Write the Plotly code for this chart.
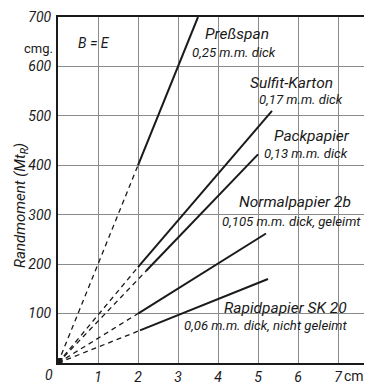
import plotly.graph_objects as go

# Randmoment curves (B = E)
names = ["Preßspan", "Sulfit-Karton", "Packpapier", "Normalpapier 2b", "Rapidpapier SK 20"]
x_solid_start = [2.0, 2.0, 2.2, 2.0, 2.05]
y_solid_start = [400, 194, 186, 100, 66]
x_end = [3.5, 5.35, 5.0, 5.2, 5.25]
y_end = [700, 510, 422, 262, 170]

# label lines (data coords, left anchored): material name, then thickness
name_x = [3.62, 4.75, 5.35, 4.48, 4.1]
name_y = [666, 567, 459, 326, 111]
detail_text = ["0,25 m.m. dick", "0,17 m.m. dick", "0,13 m.m. dick",
               "0,105 m.m. dick, geleimt", "0,06 m.m. dick, nicht geleimt"]
detail_x = [3.3, 4.97, 5.1, 4.05, 3.1]
detail_y = [628, 533, 423, 286, 76]

x_ticks = [1, 2, 3, 4, 5, 6, 7]
y_ticks = [100, 200, 300, 400, 500, 600, 700]

FONT = "Roboto, sans-serif"
INK = "#1a1a1a"

fig = go.Figure()

for i in range(len(names)):
    # dashed part from the origin
    fig.add_trace(go.Scatter(
        x=[0, x_solid_start[i]], y=[0, y_solid_start[i]],
        mode="lines", line=dict(color=INK, width=1.3, dash="5px,4px"),
        showlegend=False, hoverinfo="skip"))
    # measured (solid) part
    fig.add_trace(go.Scatter(
        x=[x_solid_start[i], x_end[i]], y=[y_solid_start[i], y_end[i]],
        mode="lines", line=dict(color=INK, width=2),
        name=names[i], showlegend=False))

# origin mark
fig.add_trace(go.Scatter(x=[0.05], y=[5], mode="markers",
                         marker=dict(symbol="square", size=5, color=INK),
                         showlegend=False, hoverinfo="skip"))

for i in range(len(names)):
    fig.add_annotation(x=name_x[i], y=name_y[i], text=names[i], showarrow=False,
                       xanchor="left",
                       font=dict(family=FONT, size=15.5, color=INK, style="italic"))
    fig.add_annotation(x=detail_x[i], y=detail_y[i], text=detail_text[i],
                       showarrow=False, xanchor="left",
                       font=dict(family=FONT, size=13.2, color=INK, style="italic"))

fig.add_annotation(x=0.9, y=648, text="B = E", showarrow=False,
                   font=dict(family=FONT, size=14, color=INK, style="italic"))
fig.add_annotation(xref="paper", yref="paper", x=-0.01, y=0.935, text="cmg.",
                   showarrow=False, xanchor="right",
                   font=dict(family=FONT, size=13, color=INK))
fig.add_annotation(xref="paper", yref="paper", x=-0.03, y=-0.035, text="0",
                   showarrow=False, xanchor="center", yanchor="middle",
                   font=dict(family=FONT, size=14, color=INK, style="italic"))
fig.add_annotation(x=7.1, y=0, yref="y", text="cm", showarrow=False,
                   xanchor="left", yanchor="top", yshift=-3,
                   font=dict(family=FONT, size=14, color=INK))
fig.add_annotation(xref="paper", yref="paper", x=-0.12, y=0.455,
                   text="Randmoment (Mt<sub>R</sub>)", textangle=-90,
                   showarrow=False, xanchor="center", yanchor="middle",
                   font=dict(family=FONT, size=15, color=INK, style="italic"))

fig.update_xaxes(range=[0, 7.85], tickvals=x_ticks, ticks="",
                 showgrid=True, gridcolor="#8a8a8a", gridwidth=1,
                 showline=True, linecolor=INK, linewidth=2, mirror=True,
                 zeroline=False,
                 tickfont=dict(family=FONT, size=14, color=INK, style="italic"))
fig.update_yaxes(range=[0, 700], tickvals=y_ticks, ticks="",
                 showgrid=True, gridcolor="#8a8a8a", gridwidth=1,
                 showline=True, linecolor=INK, linewidth=2,
                 zeroline=False, ticklabelstandoff=2,
                 tickfont=dict(family=FONT, size=14, color=INK, style="italic"))

# the page has an 8px body margin, so the figure is 8px smaller than the window
fig.update_layout(width=364, height=377,
                  margin=dict(l=50, r=0, t=9, b=20),
                  plot_bgcolor="white", paper_bgcolor="white")

fig.write_html("out.html")
